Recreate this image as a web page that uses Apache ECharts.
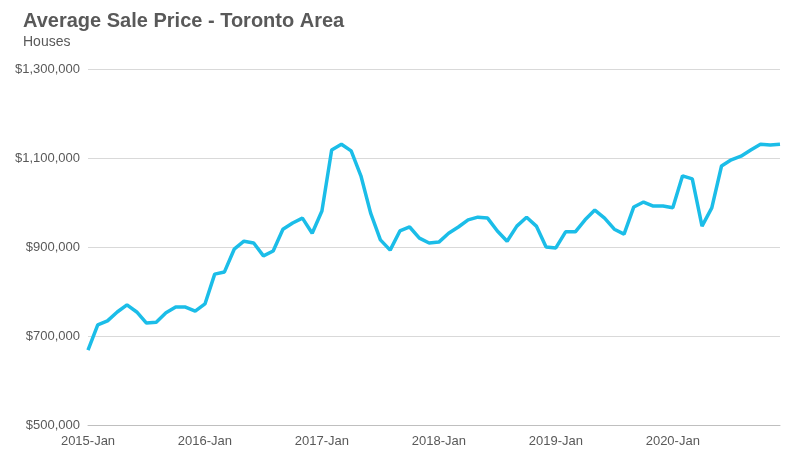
<!DOCTYPE html>
<html><head><meta charset="utf-8">
<script src="https://cdn.jsdelivr.net/npm/echarts@6/dist/echarts.min.js"></script>
<style>html,body{margin:0;padding:0;background:#fff}#c{width:785px;height:455px}</style>
</head><body><div id="c"></div>
<script>
const months=['Jan','Feb','Mar','Apr','May','Jun','Jul','Aug','Sep','Oct','Nov','Dec'];
const categories=[];
for(let y=2015;y<=2020;y++)for(const m of months)categories.push(y+'-'+m);
const prices=[668,725,734,754,770,754,729,731,752,765,765,756,
772,839,844,895,913,909,880,891,940,954,965,931,
981,1118,1131,1116,1060,976,916,893,936,945,920,909,
911,931,945,961,967,965,936,913,947,967,947,900,
898,934,934,961,983,965,940,929,990,1001,992,992,
988,1060,1053,947,988,1082,1096,1104,1118,1131,1129,1131].map(v=>v*1000);
const chart=echarts.init(document.getElementById('c'));
chart.setOption({
  animation:false,
  title:{text:'Average Sale Price - Toronto Area',subtext:'Houses',left:18,top:6,
    textStyle:{fontFamily:'Arial, Liberation Sans',fontSize:20,fontWeight:'bold',color:'#595959'},
    subtextStyle:{fontFamily:'Arial, Liberation Sans',fontSize:14,color:'#595959'},itemGap:4},
  grid:{left:88,right:5,top:69,bottom:30},
  xAxis:{type:'category',data:categories,boundaryGap:false,
    axisLine:{lineStyle:{color:'#bfbfbf'}},axisTick:{show:false},
    axisLabel:{interval:11,color:'#595959',fontSize:13,fontFamily:'Arial, Liberation Sans',margin:10}},
  yAxis:{type:'value',min:500000,max:1300000,interval:200000,
    axisLabel:{color:'#595959',fontSize:13,fontFamily:'Arial, Liberation Sans',
      formatter:v=>'$'+v.toLocaleString('en-US')},
    splitLine:{lineStyle:{color:'#d9d9d9'}}},
  series:[{type:'line',data:prices,showSymbol:false,lineStyle:{color:'#1BBDE8',width:3.5}}]
});
</script></body></html>
